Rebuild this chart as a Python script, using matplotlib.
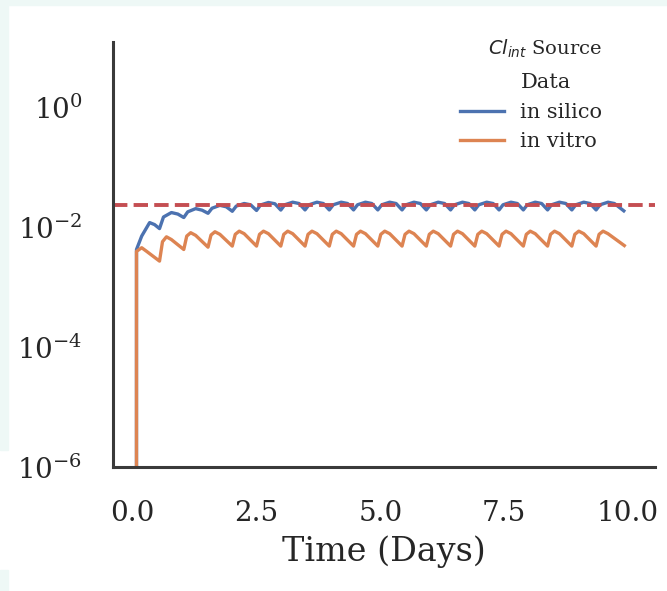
import matplotlib
matplotlib.use("Agg")
import matplotlib.pyplot as plt
from matplotlib.lines import Line2D
from matplotlib.patches import Rectangle

# Simulated plasma concentration over a repeated dosing regimen (days)
t_silico = [0.0, 0.075, 0.18, 0.34, 0.44, 0.54,
            0.62, 0.78, 0.91, 1.03,
            1.11, 1.27, 1.40, 1.52,
            1.60, 1.76, 1.89, 2.01,
            2.09, 2.25, 2.38, 2.50,
            2.58, 2.74, 2.87, 2.99,
            3.07, 3.23, 3.36, 3.48,
            3.56, 3.72, 3.85, 3.97,
            4.05, 4.21, 4.34, 4.46,
            4.54, 4.70, 4.83, 4.95,
            5.03, 5.19, 5.32, 5.44,
            5.52, 5.68, 5.81, 5.93,
            6.01, 6.17, 6.30, 6.42,
            6.50, 6.66, 6.79, 6.91,
            6.99, 7.15, 7.28, 7.40,
            7.48, 7.64, 7.77, 7.89,
            7.97, 8.13, 8.26, 8.38,
            8.46, 8.62, 8.75, 8.87,
            8.95, 9.11, 9.24, 9.36,
            9.44, 9.60, 9.73, 9.92]
c_silico = [0.0, 0.0043, 0.0072, 0.0121, 0.0112, 0.0096,
            0.0150, 0.0178, 0.0168, 0.0147,
            0.0183, 0.0207, 0.0195, 0.0173,
            0.0210, 0.0235, 0.0222, 0.0187,
            0.0228, 0.0252, 0.0240, 0.0193,
            0.0238, 0.0262, 0.0250, 0.0196,
            0.0240, 0.0265, 0.0252, 0.0197,
            0.0240, 0.0265, 0.0252, 0.0197,
            0.0240, 0.0265, 0.0252, 0.0197,
            0.0240, 0.0265, 0.0252, 0.0197,
            0.0240, 0.0265, 0.0252, 0.0197,
            0.0240, 0.0265, 0.0252, 0.0197,
            0.0240, 0.0265, 0.0252, 0.0197,
            0.0240, 0.0265, 0.0252, 0.0197,
            0.0240, 0.0265, 0.0252, 0.0197,
            0.0240, 0.0265, 0.0252, 0.0197,
            0.0240, 0.0265, 0.0252, 0.0197,
            0.0240, 0.0265, 0.0252, 0.0197,
            0.0240, 0.0265, 0.0252, 0.0197,
            0.0240, 0.0265, 0.0252, 0.0190]

t_vitro = [0.0, 0.075, 0.18, 0.28, 0.54,
           0.60, 0.68, 0.78, 1.03,
           1.09, 1.17, 1.27, 1.52,
           1.58, 1.66, 1.76, 2.01,
           2.07, 2.15, 2.25, 2.50,
           2.56, 2.64, 2.74, 2.99,
           3.05, 3.13, 3.23, 3.48,
           3.54, 3.62, 3.72, 3.97,
           4.03, 4.11, 4.21, 4.46,
           4.52, 4.60, 4.70, 4.95,
           5.01, 5.09, 5.19, 5.44,
           5.50, 5.58, 5.68, 5.93,
           5.99, 6.07, 6.17, 6.42,
           6.48, 6.56, 6.66, 6.91,
           6.97, 7.05, 7.15, 7.40,
           7.46, 7.54, 7.64, 7.89,
           7.95, 8.03, 8.13, 8.38,
           8.44, 8.52, 8.62, 8.87,
           8.93, 9.01, 9.11, 9.36,
           9.42, 9.50, 9.60, 9.93]
c_vitro = [0.0, 0.0040, 0.0046, 0.0040, 0.00275,
           0.0058, 0.0070, 0.0063, 0.0043,
           0.0072, 0.0082, 0.0074, 0.0047,
           0.0075, 0.0085, 0.0077, 0.0049,
           0.0077, 0.0087, 0.0079, 0.0049,
           0.0077, 0.0087, 0.0079, 0.0049,
           0.0077, 0.0087, 0.0079, 0.0049,
           0.0077, 0.0087, 0.0079, 0.0049,
           0.0077, 0.0087, 0.0079, 0.0049,
           0.0077, 0.0087, 0.0079, 0.0049,
           0.0077, 0.0087, 0.0079, 0.0049,
           0.0077, 0.0087, 0.0079, 0.0049,
           0.0077, 0.0087, 0.0079, 0.0049,
           0.0077, 0.0087, 0.0079, 0.0049,
           0.0077, 0.0087, 0.0079, 0.0049,
           0.0077, 0.0087, 0.0079, 0.0049,
           0.0077, 0.0087, 0.0079, 0.0049,
           0.0077, 0.0087, 0.0079, 0.0049,
           0.0077, 0.0087, 0.0079, 0.0049,
           0.0077, 0.0087, 0.0079, 0.0050]

target_conc = 0.024
y_ticks = [1e-6, 1e-4, 1e-2, 1e0]
x_ticks = [0.0, 2.5, 5.0, 7.5, 10.0]
series_labels = ["in silico", "in vitro"]
legend_title = "$Cl_{int}$ Source"
legend_subtitle = "Data"

BLUE = "#4C72B0"
ORANGE = "#DD8452"
RED = "#C44E52"
INK = "#262626"
MINT = "#EEF8F6"

plt.rcParams["font.family"] = ["DejaVu Serif"]
plt.rcParams["mathtext.fontset"] = "dejavusans"

fig = plt.figure(figsize=(6.67, 5.91), dpi=100)
fig.patch.set_facecolor("white")
# pale frame strips along the top and left edges
for rect in [(0, 0.992, 1, 0.008), (0, 0.2386, 0.012, 0.7614), (0, 0, 0.012, 0.0355)]:
    fig.patches.append(Rectangle(rect[:2], rect[2], rect[3],
                                 transform=fig.transFigure, color=MINT, zorder=0))

ax = fig.add_axes([0.1694, 0.2098, 0.8126, 0.7192])
ax.set_yscale("log")

ax.plot(t_silico, c_silico, color=BLUE, lw=2.4, label=series_labels[0])
ax.plot(t_vitro, c_vitro, color=ORANGE, lw=2.4, label=series_labels[1])
ax.axhline(target_conc, color=RED, lw=2.8, ls="--")

ax.set_ylim(1e-6, 10 ** 1.1)
ax.set_xlim(-0.40, 10.55)
ax.set_yticks(y_ticks)
ax.minorticks_off()
ax.set_xticks(x_ticks)
ax.set_xticklabels([f"{v:.1f}" for v in x_ticks])
ax.tick_params(axis="both", length=0, labelsize=20, colors=INK)
ax.tick_params(axis="y", pad=22)
ax.tick_params(axis="x", pad=24)
ax.set_xlabel("Time (Days)", fontsize=24, color=INK, labelpad=6)

for side in ("top", "right"):
    ax.spines[side].set_visible(False)
for side in ("left", "bottom"):
    ax.spines[side].set_color("#3a3a3a")
    ax.spines[side].set_linewidth(2.2)

handles = [Line2D([], [], color="none"),
           Line2D([], [], color=BLUE, lw=2.4),
           Line2D([], [], color=ORANGE, lw=2.4)]
labels = [legend_subtitle] + series_labels
leg = ax.legend(handles, labels, title=legend_title, frameon=False,
                loc="upper right", fontsize=15, title_fontsize=14,
                handlelength=2.1, labelspacing=0.5, alignment="right",
                bbox_to_anchor=(0.9376, 1.0553))
# a little more room between the title and the entries
leg._legend_box.sep = 10
for txt in leg.get_texts():
    txt.set_color(INK)
leg.get_title().set_color(INK)

fig.savefig("out.png", dpi=100, facecolor=fig.get_facecolor())
